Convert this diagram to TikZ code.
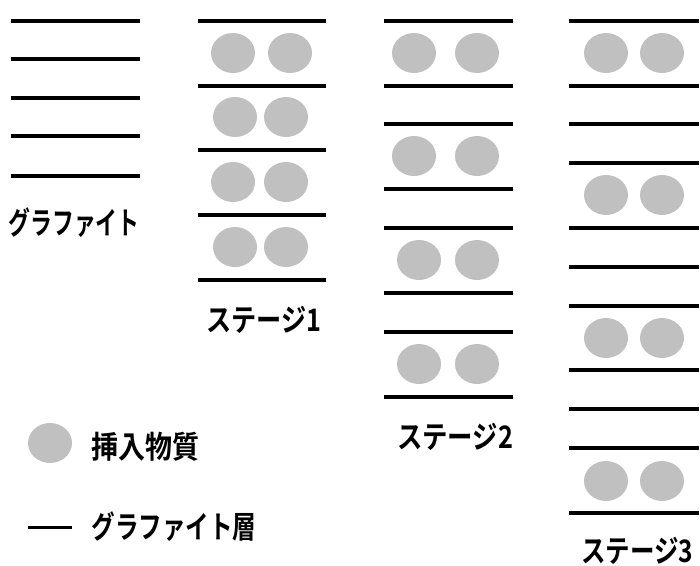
\documentclass[tikz,border=0pt]{standalone}
\usepackage{fontspec}
\usepackage{graphicx}
\newfontfamily\jpfont{Noto Sans CJK JP Bold}
\usetikzlibrary{shapes.geometric}
\definecolor{guest}{RGB}{192,192,192}
\tikzset{
  layer/.style={line width=4pt, black},
  guestdot/.style={ellipse, fill=guest, draw=none, minimum width=44pt, minimum height=40pt, inner sep=0pt},
  lbl/.style={inner sep=0pt, font=\fontsize{31pt}{31pt}\jpfont}
}
\newcommand\fitw[2]{\resizebox{#1}{\height}{#2}}
\begin{document}
\begin{tikzpicture}[x=1pt,y=-1pt]
\useasboundingbox (0,0) rectangle (700,565);
% graphite
\foreach \y [count=\i] in {21,59,98,136,176}
  \draw[layer] (11,\y) coordinate (g\i a) -- (140,\y) coordinate (g\i b);
\node[lbl] (tg) at (74,223) {\fitw{131pt}{グラファイト}};
% stage 1
\foreach \y [count=\i] in {21,86,150,215,280}
  \draw[layer] (198,\y) coordinate (a\i a) -- (326,\y) coordinate (a\i b);
\foreach \x/\xx/\y [count=\i] in {233/290/53, 235/286/117, 233/286/182, 235/286/247} {
  \node[guestdot] (s1l\i) at (\x,\y) {};
  \node[guestdot] (s1r\i) at (\xx,\y) {};
}
\node[lbl] (t1) at (264,320) {\fitw{115pt}{ステージ1}};
% stage 2
\foreach \y [count=\i] in {21,86,124,189,228,293,332,397}
  \draw[layer] (384,\y) coordinate (b\i a) -- (513,\y) coordinate (b\i b);
\foreach \x/\xx/\y [count=\i] in {414/477/53, 414/477/156, 419/477/260, 419/477/364} {
  \node[guestdot] (s2l\i) at (\x,\y) {};
  \node[guestdot] (s2r\i) at (\xx,\y) {};
}
\node[lbl] (t2) at (455,437) {\fitw{116pt}{ステージ2}};
% stage 3
\foreach \y [count=\i] in {21,86,124,163,228,267,306,370,409,448,513}
  \draw[layer] (569,\y) coordinate (c\i a) -- (699,\y) coordinate (c\i b);
\foreach \y [count=\i] in {53,195,338,481} {
  \node[guestdot] (s3l\i) at (606,\y) {};
  \node[guestdot] (s3r\i) at (662,\y) {};
}
\node[lbl] (t3) at (637,551) {\fitw{112pt}{ステージ3}};
% legend
\node[guestdot] (legdot) at (50,443) {};
\node[lbl] (legt1) at (145,447) {\fitw{108pt}{挿入物質}};
\draw[line width=3pt] (28,527) coordinate (ll1) -- (72,527) coordinate (ll2);
\node[lbl] (legt2) at (174,527) {\fitw{165pt}{グラファイト層}};
\end{tikzpicture}
\end{document}
